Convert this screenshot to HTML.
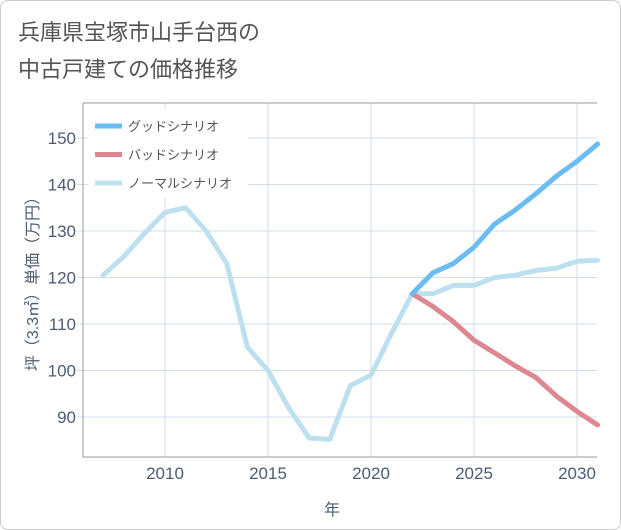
<!DOCTYPE html>
<html><head><meta charset="utf-8"><style>
body{margin:0;background:#fff;}
#wrap{position:relative;width:619px;height:528px;border:1px solid #ccc;border-radius:8px;overflow:hidden;font-family:"Liberation Sans","Noto Sans CJK JP",sans-serif;}
</style></head><body>
<div id="wrap">
<svg id="svg" width="621" height="530" style="position:absolute;left:-1px;top:-1px">
<text x="18" y="40" font-size="22" fill="#555" font-family="Liberation Sans, Noto Sans CJK JP, sans-serif">兵庫県宝塚市山手台西の</text>
<text x="18" y="77" font-size="22" fill="#555" font-family="Liberation Sans, Noto Sans CJK JP, sans-serif">中古戸建ての価格推移</text>
<g id="grid"></g><g id="lines"></g><g id="axes"></g>
<text x="332" y="515" font-size="16" fill="#4a5d75" text-anchor="middle" font-family="Liberation Sans, Noto Sans CJK JP, sans-serif">年</text>
<text transform="translate(38,280) rotate(-90)" font-size="16" fill="#4a5d75" text-anchor="middle" font-family="Liberation Sans, Noto Sans CJK JP, sans-serif">坪（3.3㎡）単価（万円）</text>
<g id="legend"></g>
</svg></div>
<script>
const years=[2007,2008,2009,2010,2011,2012,2013,2014,2015,2016,2017,2018,2019,2020,2021,2022,2023,2024,2025,2026,2027,2028,2029,2030,2031];
const normal=[120.5,124.5,129.5,134,135,130,123,105,100,92,85.5,85.2,96.8,99,108,116.5,116.5,118.3,118.3,120,120.5,121.5,122,123.5,123.7];
const futureYears=[2022,2023,2024,2025,2026,2027,2028,2029,2030,2031];
const good=[116.5,121,123,126.5,131.5,134.5,138,141.8,145,148.7];
const bad=[116.5,113.8,110.5,106.5,103.8,101,98.5,94.5,91.2,88.3];
const xTicks=[2010,2015,2020,2025,2030];
const yTicks=[90,100,110,120,130,140,150];
const L=83,R=597,T=103,B=457;
const X=y=>165+(y-2010)*20.6;
const Y=v=>138+(150-v)*4.65;
const NS="http://www.w3.org/2000/svg";
function mk(tag,attrs,parent){const e=document.createElementNS(NS,tag);for(const k in attrs)e.setAttribute(k,attrs[k]);parent.appendChild(e);return e;}
const grid=document.getElementById('grid'),axes=document.getElementById('axes'),lines=document.getElementById('lines'),leg=document.getElementById('legend');
xTicks.forEach(t=>{const l=mk('line',{x1:X(t),x2:X(t),y1:T,y2:B,stroke:'#cfdeea','stroke-width':1},grid);

const tx=mk('text',{x:X(t),y:479,'font-size':17,fill:'#4a5d75','text-anchor':'middle'},axes);tx.textContent=t;
});
yTicks.forEach(t=>{const l=mk('line',{x1:L-6,x2:R,y1:Y(t),y2:Y(t),stroke:'#cfdeea','stroke-width':1},grid);

const tx=mk('text',{x:L-7,y:Y(t)+6,'font-size':17,fill:'#4a5d75','text-anchor':'end'},axes);tx.textContent=t;
});
const fr=mk('path',{d:`M${L},${T}V${B}H${R}`,fill:'none',stroke:'#999','stroke-width':1},axes);

const ft=mk('line',{x1:L,x2:R,y1:T,y2:T,stroke:'#999','stroke-width':1},axes);

function line(xs,vs,color,name){const p=mk('polyline',{points:xs.map((x,i)=>X(x)+','+Y(vs[i])).join(' '),fill:'none',stroke:color,'stroke-width':5,'stroke-linejoin':'round','stroke-linecap':'round'},lines);
}
line(years,normal,'#bde0ef','normal-scenario-line');
line(futureYears,bad,'#dd8890','bad-scenario-line');
line(futureYears,good,'#6bbcf3','good-scenario-line');
const bg=mk('rect',{x:88,y:110,width:160,height:88,fill:'#fff'},leg);

[['グッドシナリオ','#6bbcf3'],['バッドシナリオ','#dd8890'],['ノーマルシナリオ','#bde0ef']].forEach((e,i)=>{const y=126+i*28.5;
const g=mk('g',{},leg);
mk('line',{x1:95,x2:122,y1:y,y2:y,stroke:e[1],'stroke-width':5},g);
const t=mk('text',{x:128,y:y+5,'font-size':13,fill:'#555'},g);t.textContent=e[0];});
</script>
</body></html>
